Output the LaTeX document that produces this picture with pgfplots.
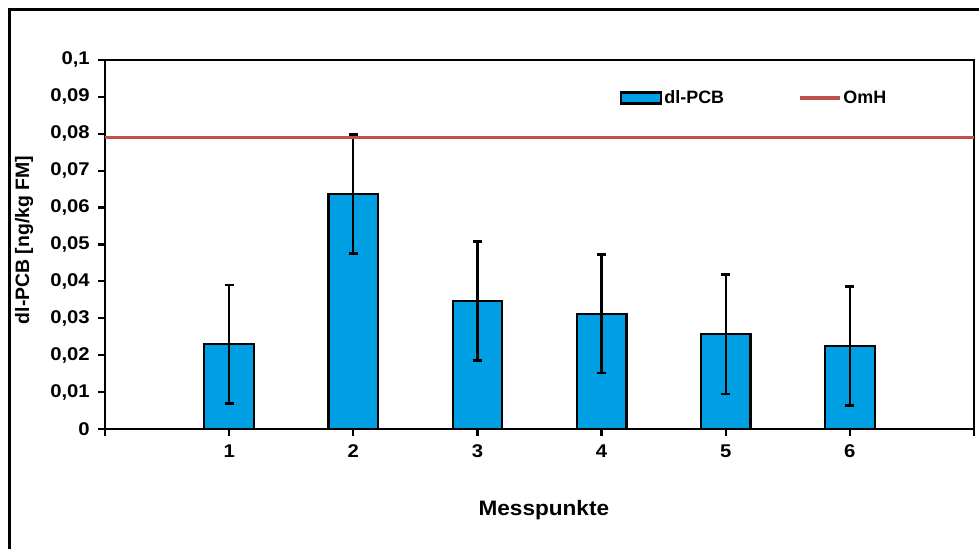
\documentclass[border=0pt]{standalone}
\usepackage{pgfplots}
\pgfplotsset{compat=1.18}
\usepackage{fontspec}
\setmainfont{Liberation Sans}
\definecolor{barblue}{RGB}{0,159,227}
\definecolor{omhred}{RGB}{192,80,77}

\begin{document}
\begin{tikzpicture}[x=1bp,y=1bp]
\useasboundingbox (0,0) rectangle (979,549);
% outer chart frame, cut at the right and bottom
\begin{scope}
  \clip (0,0) rectangle (979,549);
  \draw[line width=3bp] (9.5,-20) -- (9.5,539.5) -- (1000,539.5);
\end{scope}
\begin{axis}[
    at={(105bp,120bp)}, anchor=south west,
    scale only axis, width=869bp, height=369bp,
    xmin=0, xmax=7, ymin=0, ymax=0.1,
    axis line style={line width=2.2bp},
    tick style={black, line width=2.2bp},
    major tick length=7bp,
    tick align=outside,
    tick pos=left,
    xtick={0,1,2,3,4,5,6,7},
    xticklabels={,1,2,3,4,5,6,},
    ytick={0,0.01,0.02,0.03,0.04,0.05,0.06,0.07,0.08,0.09,0.1},
    yticklabels={0,{0,01},{0,02},{0,03},{0,04},{0,05},{0,06},{0,07},{0,08},{0,09},{0,1}},
    ticklabel style={font=\fontsize{18.5}{22}\selectfont\bfseries, xscale=1.1},
    yticklabel style={xshift=-4bp},
    xticklabel style={yshift=-5bp},
    xlabel={Messpunkte},
    xlabel style={font=\fontsize{21}{25}\selectfont\bfseries, xscale=1.08,
        at={(axis description cs:0.505,-0.219)}, anchor=center},
    ylabel={dl-PCB [ng/kg FM]},
    ylabel style={font=\fontsize{19.5}{23}\selectfont\bfseries,
        at={(axis description cs:-0.093,0.512)}, anchor=center},
    legend columns=2,
    legend style={at={(axis description cs:0.5926,0.897)}, anchor=west,
        draw=none, fill=none, inner sep=0pt,
        font=\fontsize{18}{21}\selectfont\bfseries,
        nodes={inner xsep=2bp},
        /tikz/every even column/.append style={column sep=72bp}},
]
\addplot[ybar, bar width=0.4, fill=barblue, draw=black, line width=2.2bp,
    legend image code/.code={\draw[fill=barblue, draw=black, line width=2.2bp] (0bp,-5.5bp) rectangle (40bp,5.5bp);},
    error bars/.cd, y dir=both, y explicit,
    error bar style={line width=2.4bp, black},
    error mark options={rotate=90, mark size=4.5bp, line width=2.4bp, black}]
coordinates {
    (1,0.0230) +- (0,0.0161)
    (2,0.0637) +- (0,0.0161)
    (3,0.0347) +- (0,0.0161)
    (4,0.0312) +- (0,0.0161)
    (5,0.0257) +- (0,0.0162)
    (6,0.0225) +- (0,0.0161)
};
\addlegendentry{dl-PCB}
\addplot[omhred, line width=3.2bp,
    legend image code/.code={\draw[omhred, line width=3.2bp] (0bp,0bp) -- (40bp,0bp);}]
coordinates {(0,0.0791) (7,0.0791)};
\addlegendentry{OmH}
\end{axis}
\end{tikzpicture}
\end{document}
